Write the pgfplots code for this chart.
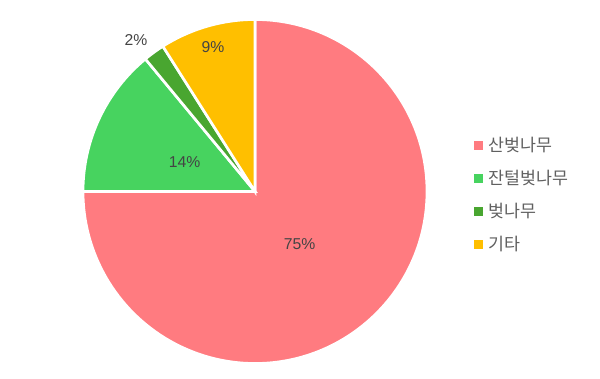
\documentclass[border=0pt]{standalone}
\usepackage{fontspec}
\setmainfont{Liberation Sans}
\newfontfamily\kr{Noto Sans CJK KR}
\usepackage{pgfplots}
\pgfplotsset{compat=1.18}
\definecolor{cRed}{HTML}{FF7B80}
\definecolor{cGreen}{HTML}{47D35F}
\definecolor{cDark}{HTML}{49A630}
\definecolor{cYel}{HTML}{FFBF00}
\definecolor{cText}{HTML}{444444}
% data (percent)
\def\vA{75}\def\vB{14}\def\vC{2}\def\vD{9}
\pgfmathsetmacro\aA{90}
\pgfmathsetmacro\aB{\aA-\vA*3.6}
\pgfmathsetmacro\aC{\aB-\vB*3.6}
\pgfmathsetmacro\aD{\aC-\vC*3.6}
\pgfmathsetmacro\aE{\aD-\vD*3.6}
\def\R{172}
\begin{document}
\begin{tikzpicture}
\begin{axis}[
  scale only axis, width=450pt, height=283.5pt,
  xmin=-255, xmax=345, ymin=-186.5, ymax=191.5,
  hide axis, clip=false,
  legend style={draw=none, fill=none, at={(470/600,1-195/378)}, anchor=west,
    font=\kr\fontsize{13pt}{15pt}\selectfont, text=cText!85, row sep=8.5pt,
    legend cell align=left, /tikz/every odd column/.append style={column sep=2.5pt}},
  legend image code/.code={\fill[#1] (0pt,-3pt) rectangle (6pt,3pt);},
]
\addlegendimage{cRed}\addlegendentry{산벚나무}
\addlegendimage{cGreen}\addlegendentry{잔털벚나무}
\addlegendimage{cDark}\addlegendentry{벚나무}
\addlegendimage{cYel}\addlegendentry{기타}
\fill[cRed, draw=white, line width=2pt] (axis cs:0,0) -- (axis cs:{\R*cos(\aA)},{\R*sin(\aA)}) arc[start angle=\aA, end angle=\aB, radius=\R*0.75pt] -- cycle;
\fill[cGreen, draw=white, line width=2pt] (axis cs:0,0) -- (axis cs:{\R*cos(\aB)},{\R*sin(\aB)}) arc[start angle=\aB, end angle=\aC, radius=\R*0.75pt] -- cycle;
\fill[cDark, draw=white, line width=2pt] (axis cs:0,0) -- (axis cs:{\R*cos(\aC)},{\R*sin(\aC)}) arc[start angle=\aC, end angle=\aD, radius=\R*0.75pt] -- cycle;
\fill[cYel, draw=white, line width=2pt] (axis cs:0,0) -- (axis cs:{\R*cos(\aD)},{\R*sin(\aD)}) arc[start angle=\aD, end angle=\aE, radius=\R*0.75pt] -- cycle;
\begin{scope}[every node/.style={font=\fontsize{11.8pt}{13pt}\selectfont, text=cText}]
\node at (axis cs:44.5,-52.5) {75\%};
\node at (axis cs:-70.5,29) {14\%};
\node at (axis cs:-119,151) {2\%};
\node at (axis cs:-42,144) {9\%};
\end{scope}
\end{axis}
\pgfresetboundingbox
\path[use as bounding box] (current axis.south west) rectangle (current axis.north east);
\end{tikzpicture}
\end{document}
